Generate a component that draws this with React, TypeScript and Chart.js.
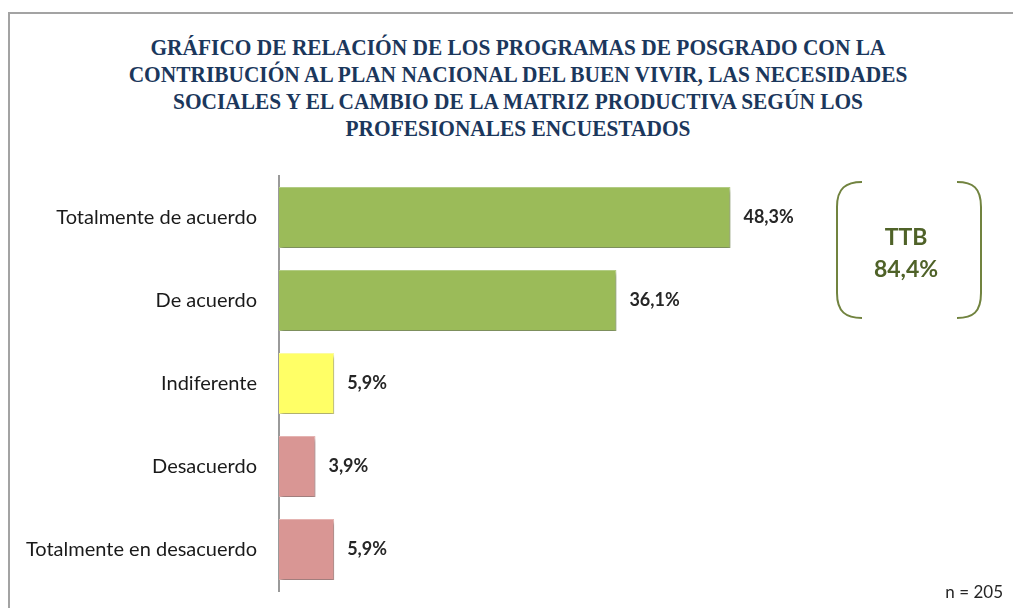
import React, { useEffect, useRef } from "react";
import { Chart, registerables } from "chart.js";

Chart.register(...registerables);

const titleLines = [
  "GRÁFICO DE RELACIÓN DE LOS PROGRAMAS DE POSGRADO CON LA",
  "CONTRIBUCIÓN AL PLAN NACIONAL DEL BUEN VIVIR, LAS NECESIDADES",
  "SOCIALES Y EL CAMBIO DE LA MATRIZ PRODUCTIVA SEGÚN LOS",
  "PROFESIONALES ENCUESTADOS",
];
const categories = [
  "Totalmente de acuerdo",
  "De acuerdo",
  "Indiferente",
  "Desacuerdo",
  "Totalmente en desacuerdo",
];
const values = [48.3, 36.1, 5.9, 3.9, 5.9];
const barColors = ["#9BBB59", "#9BBB59", "#FFFF66", "#D99694", "#D99694"];
const barBorders = ["#B5CF86", "#B5CF86", "#FFFFA0", "#E8B6B4", "#E8B6B4"];
const ttbLabel = "TTB";
const ttbValue = "84,4%";
const sampleNote = "n = 205";

const fmt = (v: number) => v.toFixed(1).replace(".", ",") + "%";

const shadowPlugin = {
  id: "barShadow",
  beforeDatasetDraw(chart: any) {
    const ctx = chart.ctx;
    ctx.save();
    ctx.shadowColor = "rgba(0,0,0,0.35)";
    ctx.shadowBlur = 4;
    ctx.shadowOffsetX = 2;
    ctx.shadowOffsetY = 3;
  },
  afterDatasetDraw(chart: any) {
    chart.ctx.restore();
  },
};

const valueLabelPlugin = {
  id: "valueLabels",
  afterDatasetsDraw(chart: any) {
    const ctx = chart.ctx;
    const meta = chart.getDatasetMeta(0);
    ctx.save();
    ctx.font = "bold 18px Lato";
    ctx.fillStyle = "#262626";
    ctx.textAlign = "left";
    ctx.textBaseline = "middle";
    meta.data.forEach((bar: any, i: number) => {
      ctx.fillText(fmt(values[i]), bar.x + 13, bar.y);
    });
    ctx.restore();
  },
};

export default function App() {
  const canvasRef = useRef<HTMLCanvasElement | null>(null);

  useEffect(() => {
    if (!canvasRef.current) return;
    const chart = new Chart(canvasRef.current, {
      type: "bar",
      data: {
        labels: categories,
        datasets: [
          {
            data: values,
            backgroundColor: barColors,
            borderColor: barBorders,
            borderWidth: 1,
            barPercentage: 0.735,
            categoryPercentage: 1,
          },
        ],
      },
      options: {
        indexAxis: "y",
        animation: false,
        responsive: false,
        maintainAspectRatio: false,
        devicePixelRatio: 1,
        layout: { padding: { top: 176, bottom: 17, left: 0, right: 33 } },
        plugins: {
          legend: { display: false },
          tooltip: { enabled: false },
          title: { display: false },
        },
        scales: {
          x: { display: false, min: 0, max: 75 },
          y: {
            grid: {
              display: true,
              drawOnChartArea: false,
              drawTicks: true,
              tickLength: 22,
              color: "rgba(0,0,0,0)",
            },
            border: { display: true, color: "#9a9a9a", width: 2 },
            ticks: {
              color: "#1a1a1a",
              font: { family: "Lato", size: 20 },
              padding: 0,
            },
            afterFit(scale: any) {
              scale.width = 279;
            },
          },
        },
      },
      plugins: [shadowPlugin, valueLabelPlugin],
    });
    return () => chart.destroy();
  }, []);

  return (
    <div style={{ position: "absolute", left: 0, top: 0, width: 1013, height: 608, background: "#fff", overflow: "hidden" }}>
      <div
        style={{
          position: "absolute",
          left: 8,
          top: 12,
          width: 1020,
          height: 620,
          borderLeft: "2px solid #a3a3a3",
          borderTop: "2px solid #a3a3a3",
        }}
      />
      <div
        style={{
          position: "absolute",
          left: 18,
          top: 34,
          width: 1000,
          textAlign: "center",
          fontFamily: "'Liberation Serif', serif",
          fontWeight: "bold",
          fontSize: 23,
          lineHeight: "27px",
          color: "#1B375C",
          transform: "scaleX(0.93)",
          transformOrigin: "500px 0",
        }}
      >
        {titleLines.map((l, i) => (
          <div key={i}>{l}</div>
        ))}
      </div>
      <canvas
        ref={canvasRef}
        width={1013}
        height={608}
        style={{ position: "absolute", left: 0, top: 0, width: 1013, height: 608 }}
      />
      <svg
        width={1013}
        height={608}
        style={{ position: "absolute", left: 0, top: 0, pointerEvents: "none" }}
      >
        <path d="M 862 182 C 846 182 837 188 837 207 V 293 C 837 312 846 318 862 318" fill="none" stroke="#71833F" strokeWidth={2} />
        <path d="M 957 182 C 973 182 981 188 981 207 V 293 C 981 312 973 318 957 318" fill="none" stroke="#71833F" strokeWidth={2} />
        <text x={906} y={236} textAnchor="middle" dominantBaseline="central" fontFamily="Lato" fontWeight="bold" fontSize={23} fill="#4F6228">
          {ttbLabel}
        </text>
        <text x={906} y={268} textAnchor="middle" dominantBaseline="central" fontFamily="Lato" fontWeight="bold" fontSize={23} fill="#4F6228">
          {ttbValue}
        </text>
        <text x={1003} y={591} textAnchor="end" dominantBaseline="central" fontFamily="Lato" fontSize={17} fill="#262626">
          {sampleNote}
        </text>
      </svg>
    </div>
  );
}
